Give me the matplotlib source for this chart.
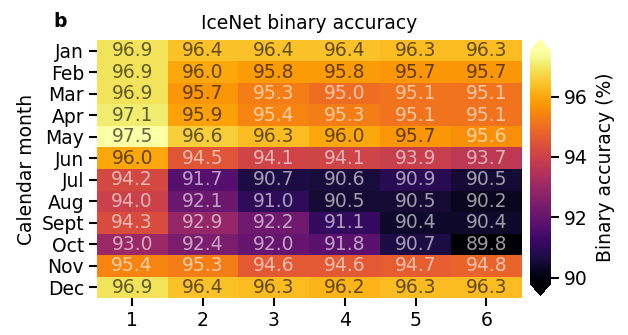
import numpy as np
import matplotlib
matplotlib.use("Agg")
import matplotlib.pyplot as plt
from matplotlib.colors import Normalize

months = ["Jan", "Feb", "Mar", "Apr", "May", "Jun", "Jul", "Aug", "Sept", "Oct", "Nov", "Dec"]
lead_times = ["1", "2", "3", "4", "5", "6"]

acc_lead1 = [96.9, 96.9, 96.9, 97.1, 97.5, 96.0, 94.2, 94.0, 94.3, 93.0, 95.4, 96.9]
acc_lead2 = [96.4, 96.0, 95.7, 95.9, 96.6, 94.5, 91.7, 92.1, 92.9, 92.4, 95.3, 96.4]
acc_lead3 = [96.4, 95.8, 95.3, 95.4, 96.3, 94.1, 90.7, 91.0, 92.2, 92.0, 94.6, 96.3]
acc_lead4 = [96.4, 95.8, 95.0, 95.3, 96.0, 94.1, 90.6, 90.5, 91.1, 91.8, 94.6, 96.2]
acc_lead5 = [96.3, 95.7, 95.1, 95.1, 95.7, 93.9, 90.9, 90.5, 90.4, 90.7, 94.7, 96.3]
acc_lead6 = [96.3, 95.7, 95.1, 95.1, 95.6, 93.7, 90.5, 90.2, 90.4, 89.8, 94.8, 96.3]

acc = np.column_stack([acc_lead1, acc_lead2, acc_lead3, acc_lead4, acc_lead5, acc_lead6])

fig = plt.figure(figsize=(6.28, 3.35), dpi=100)
ax = fig.add_axes([0.154, 0.110, 0.677, 0.771])
cax = fig.add_axes([0.844, 0.119, 0.033, 0.762])

cmap = plt.get_cmap("inferno")
norm = Normalize(vmin=acc.min(), vmax=acc.max())
mesh = ax.pcolormesh(acc, cmap=cmap, norm=norm)
ax.set_xlim(0, acc.shape[1])
ax.set_ylim(acc.shape[0], 0)

# light text on the darker cells, dark text on the bright ones
for i in range(acc.shape[0]):
    for j in range(acc.shape[1]):
        col = "black" if norm(acc[i, j]) > 0.76 else "white"
        ax.text(j + 0.5, i + 0.5, f"{acc[i, j]:.1f}", ha="center", va="center",
                color=col, alpha=0.6, fontsize=13.5)

ax.set_xticks(np.arange(acc.shape[1]) + 0.5)
ax.set_xticklabels(lead_times, fontsize=13.5)
ax.set_yticks(np.arange(acc.shape[0]) + 0.5)
ax.set_yticklabels(months, fontsize=13.5)
ax.tick_params(axis="both", length=6, width=1.5, pad=3)
for s in ax.spines.values():
    s.set_visible(False)
ax.set_ylabel("Calendar month", fontsize=13.5, labelpad=4)
ax.set_title("IceNet binary accuracy", fontsize=13.5, pad=8)
fig.text(0.085, 0.937, "b", fontsize=13.5, fontweight="bold", va="center")

cb = fig.colorbar(mesh, cax=cax, extend="both", ticks=[90, 92, 94, 96])
cb.outline.set_visible(False)
cb.ax.tick_params(labelsize=13.5, length=6, width=1.5)
cb.set_label("Binary accuracy (%)", fontsize=13.5, labelpad=6)

fig.savefig("out.png", dpi=100)
